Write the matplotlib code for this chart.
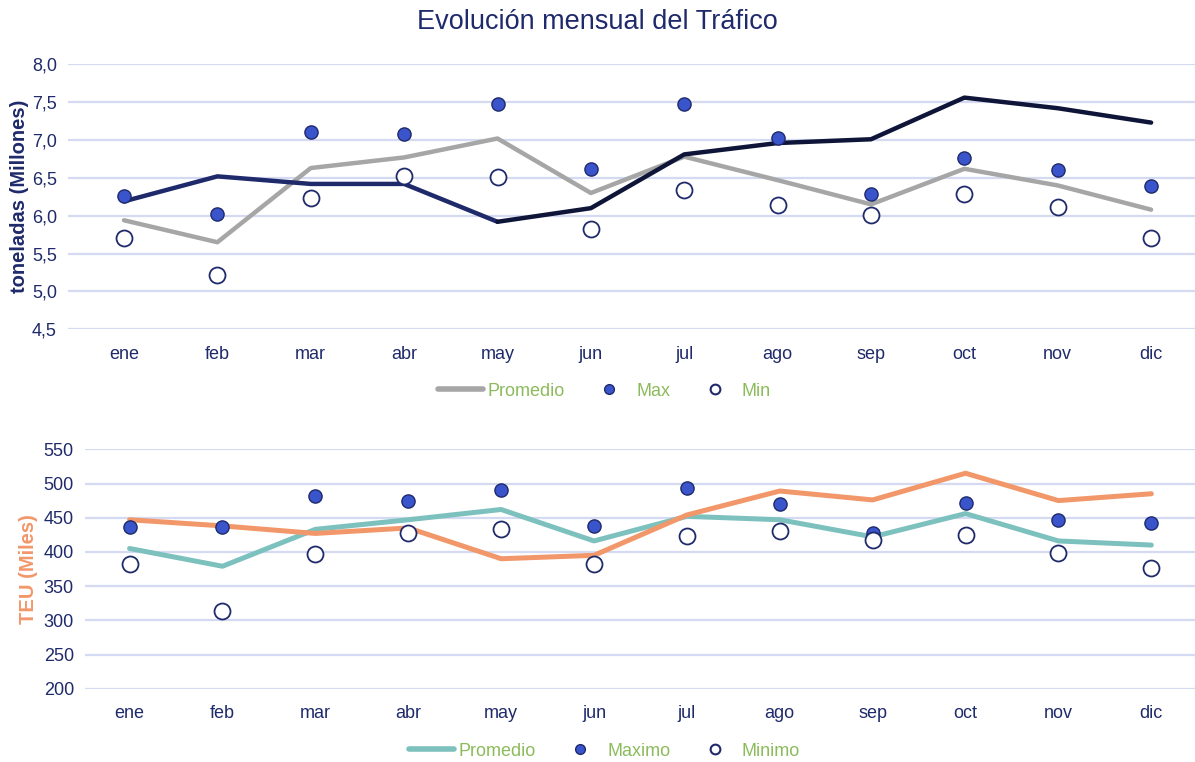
"""Evolucion mensual del trafico."""
import matplotlib
matplotlib.use('Agg')
import matplotlib.pyplot as plt
from matplotlib.lines import Line2D

MESES = ['ene', 'feb', 'mar', 'abr', 'may', 'jun', 'jul', 'ago', 'sep', 'oct', 'nov', 'dic']

# toneladas (Millones)
TON_ACTUAL = [6.19, 6.52, 6.42, 6.42, 5.92, 6.10, 6.81, 6.96, 7.01, 7.56, 7.42, 7.23]
TON_PROMEDIO = [5.94, 5.65, 6.63, 6.77, 7.02, 6.30, 6.78, 6.47, 6.15, 6.62, 6.40, 6.08]
TON_MAX = [6.26, 6.02, 7.10, 7.08, 7.47, 6.62, 7.48, 7.03, 6.29, 6.76, 6.60, 6.39]
TON_MIN = [5.71, 5.22, 6.23, 6.53, 6.51, 5.83, 6.34, 6.14, 6.01, 6.29, 6.12, 5.70]

# TEU (Miles)
TEU_ACTUAL = [447, 438, 427, 435, 390, 395, 454, 489, 476, 515, 475, 485]
TEU_PROMEDIO = [405, 379, 433, 447, 462, 416, 452, 447, 422, 456, 416, 410]
TEU_MAX = [437, 437, 481, 474, 490, 438, 494, 470, 428, 472, 447, 442]
TEU_MIN = [383, 314, 397, 427, 434, 382, 423, 430, 418, 424, 399, 376]

NAVY = '#1f2a6b'
DARK = '#0e1538'
GRAY = '#a6a6a6'
ORANGE = '#f2976a'
TEAL = '#7dc1bf'
BLUE = '#3a55cc'
GREEN = '#8cbb5c'
GRID = '#d3daf2'

plt.rcParams['font.family'] = ['Liberation Sans', 'DejaVu Sans']

fig = plt.figure(figsize=(11.95, 7.62), dpi=100)
ax1 = fig.add_axes([68 / 1195, 1 - 329.3 / 762, 1127 / 1195, 265 / 762])
ax2 = fig.add_axes([85 / 1195, 1 - 688.7 / 762, 1110 / 1195, 239.4 / 762])

x = list(range(len(MESES)))


def style(ax, ylim, yticks, ylabels, xlim):
    ax.set_xlim(*xlim)
    ax.set_ylim(*ylim)
    ax.set_yticks(yticks)
    ax.set_yticklabels(ylabels)
    ax.set_xticks(x)
    ax.set_xticklabels(MESES)
    for s in ax.spines.values():
        s.set_visible(False)
    ax.tick_params(length=0, labelsize=13, colors=NAVY)
    ax.tick_params(axis='x', pad=12)
    ax.tick_params(axis='y', pad=8)
    ax.grid(axis='y', color=GRID, linewidth=1.6)
    ax.set_axisbelow(True)


# top chart
style(ax1, (4.5, 8.0), [4.5 + 0.5 * i for i in range(8)],
      [f'{4.5 + 0.5 * i:.1f}'.replace('.', ',') for i in range(8)], (-0.6, 11.47))
ax1.plot(x, TON_PROMEDIO, color=GRAY, linewidth=3.2, solid_capstyle='round', zorder=2)
ax1.plot(x[:5], TON_ACTUAL[:5], color=NAVY, linewidth=3.2, solid_capstyle='round', zorder=3)
ax1.plot(x[4:], TON_ACTUAL[4:], color=DARK, linewidth=3.2, solid_capstyle='round', zorder=3)
ax1.plot(x, TON_MAX, linestyle='none', marker='o', markersize=9.5, markerfacecolor=BLUE,
         markeredgecolor=NAVY, markeredgewidth=1, zorder=4)
ax1.plot(x, TON_MIN, linestyle='none', marker='o', markersize=11.5, markerfacecolor='white',
         markeredgecolor=NAVY, markeredgewidth=1.3, zorder=4)
ax1.set_ylabel('toneladas (Millones)', fontsize=14.5, fontweight='bold', color=NAVY, labelpad=2)

# bottom chart
style(ax2, (200, 550), list(range(200, 551, 50)), [str(v) for v in range(200, 551, 50)],
      (-0.48, 11.47))
ax2.plot(x, TEU_PROMEDIO, color=TEAL, linewidth=3.6, solid_capstyle='round', zorder=2)
ax2.plot(x, TEU_ACTUAL, color=ORANGE, linewidth=3.6, solid_capstyle='round', zorder=3)
ax2.plot(x, TEU_MAX, linestyle='none', marker='o', markersize=9.5, markerfacecolor=BLUE,
         markeredgecolor=NAVY, markeredgewidth=1, zorder=4)
ax2.plot(x, TEU_MIN, linestyle='none', marker='o', markersize=11.5, markerfacecolor='white',
         markeredgecolor=NAVY, markeredgewidth=1.3, zorder=4)
ax2.set_ylabel('TEU (Miles)', fontsize=14.5, fontweight='bold', color=ORANGE, labelpad=4)


def legend(line_color, labels, y):
    handles = [
        Line2D([], [], color=line_color, linewidth=4, solid_capstyle='round'),
        Line2D([], [], linestyle='none', marker='o', markersize=7, markerfacecolor=BLUE,
               markeredgecolor=NAVY),
        Line2D([], [], linestyle='none', marker='o', markersize=7, markerfacecolor='white',
               markeredgecolor=NAVY, markeredgewidth=1.5),
    ]
    fig.legend(handles, labels, loc='center', bbox_to_anchor=(0.506, y), ncol=3,
               frameon=False, fontsize=13, handlelength=2.5, handletextpad=0.25,
               columnspacing=1.2, labelcolor=GREEN)


legend(GRAY, ['Promedio', 'Max', 'Min'], 1 - 391 / 762)
legend(TEAL, ['Promedio', 'Maximo', 'Minimo'], 1 - 751 / 762)

fig.text(0.5, 1 - 22 / 762, 'Evolución mensual del Tráfico', ha='center', va='center',
         fontsize=19.5, color=NAVY)

fig.savefig('out.png', dpi=100)
